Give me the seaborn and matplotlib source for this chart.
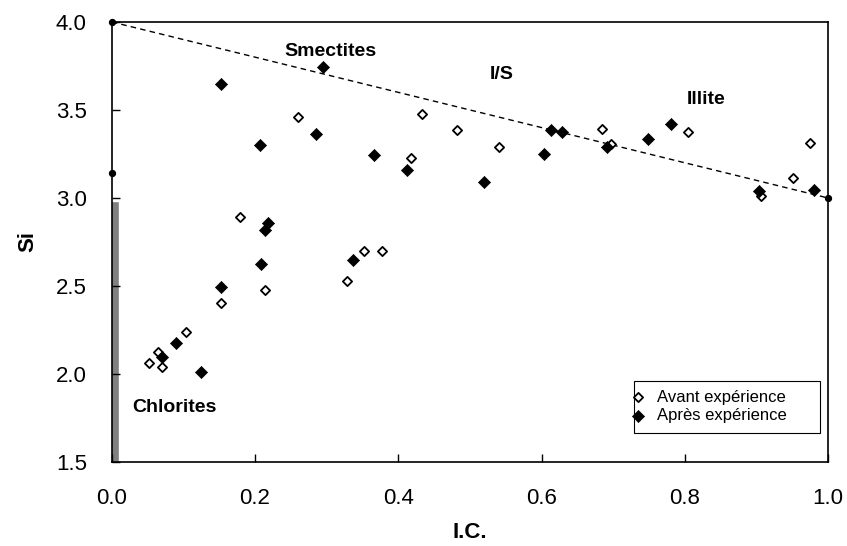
import numpy as np
import matplotlib
matplotlib.use("Agg")
import matplotlib.pyplot as plt
from matplotlib.patches import Rectangle
import pandas as pd
import seaborn as sns

sns.set_style("white")
plt.rcParams["font.family"] = ["Liberation Sans", "DejaVu Sans"]
plt.rcParams["text.color"] = "black"
plt.rcParams["axes.labelcolor"] = "black"
plt.rcParams["xtick.color"] = "black"
plt.rcParams["ytick.color"] = "black"

# avant experience (open diamonds)
avant_ic = [0.260, 0.179, 0.4325, 0.482, 0.418, 0.540, 0.684, 0.6965, 0.804, 0.975, 0.951,
            0.907, 0.152, 0.2137, 0.377, 0.3515, 0.328, 0.103, 0.065, 0.0526, 0.070]
avant_si = [3.459, 2.894, 3.475, 3.388, 3.226, 3.288, 3.390, 3.307, 3.375, 3.314, 3.114,
            3.011, 2.402, 2.475, 2.699, 2.697, 2.530, 2.240, 2.123, 2.064, 2.042]

# apres experience (filled diamonds)
apres_ic = [0.295, 0.152, 0.285, 0.207, 0.366, 0.218, 0.214, 0.412, 0.520, 0.613, 0.629, 0.603,
            0.691, 0.749, 0.781, 0.981, 0.903, 0.208, 0.152, 0.337, 0.089, 0.070, 0.124]
apres_si = [3.746, 3.648, 3.364, 3.303, 3.243, 2.860, 2.818, 3.157, 3.091, 3.386, 3.373, 3.248,
            3.292, 3.337, 3.422, 3.047, 3.038, 2.625, 2.493, 2.646, 2.174, 2.095, 2.013]

# reference line smectite -> illite, and end points
line_ic = [0.0, 1.0]
line_si = [4.0, 3.0]
pts_ic = [0.0, 0.0, 1.0]
pts_si = [4.0, 3.14, 3.0]

# chlorite bar
chl_ic = [0.0]
chl_top = [2.985]

labels = ["Smectites", "I/S", "Illite", "Chlorites"]
label_ic = [0.305, 0.545, 0.83, 0.087]
label_si = [3.83, 3.70, 3.557, 1.81]

df_av = pd.DataFrame({"IC": avant_ic, "Si": avant_si})
df_ap = pd.DataFrame({"IC": apres_ic, "Si": apres_si})

fig = plt.figure(figsize=(8.47, 5.46), dpi=100)
ax = fig.add_axes([0.132, 0.1538, 0.8456, 0.806])
ax.set_axisbelow(False)

ax.bar(chl_ic, np.array(chl_top) - 1.5, bottom=1.5, width=0.02, color="#808080", zorder=1)
ax.plot(line_ic, line_si, ls=(0, (4, 3)), color="black", lw=1, zorder=2)
ax.scatter(pts_ic, pts_si, s=18, color="black", zorder=5, clip_on=False)

sns.scatterplot(data=df_av, x="IC", y="Si", marker="D", s=22, facecolor="white",
                edgecolor="black", linewidth=1.3, ax=ax, zorder=3, label="Avant expérience")
sns.scatterplot(data=df_ap, x="IC", y="Si", marker="D", s=38, color="black",
                edgecolor="black", linewidth=0.5, ax=ax, zorder=4, label="Après expérience")

for t, xx, yy in zip(labels, label_ic, label_si):
    ax.text(xx, yy, t, ha="center", va="center", fontsize=14, fontweight="bold")

ax.set_xlim(0, 1.0)
ax.set_ylim(1.5, 4.0)
ax.set_xticks(np.arange(0, 1.01, 0.2))
ax.set_yticks(np.arange(1.5, 4.01, 0.5))
ax.set_xticklabels(["%.1f" % v for v in np.arange(0, 1.01, 0.2)])
ax.set_yticklabels(["%.1f" % v for v in np.arange(1.5, 4.01, 0.5)])
ax.tick_params(direction="in", length=5.5, width=1, labelsize=16, color="black",
               bottom=True, left=True)
ax.tick_params(axis="y", pad=18)
ax.tick_params(axis="x", pad=19)
for sp in ax.spines.values():
    sp.set_color("black")
    sp.set_linewidth(1.2)
ax.set_xlabel("I.C.", fontsize=16, fontweight="bold", va="center")
ax.set_ylabel("Si", fontsize=16, fontweight="bold", va="center")
ax.xaxis.set_label_coords(0.5, -0.16)
ax.yaxis.set_label_coords(-0.117, 0.5)

# legend box
ax.add_patch(Rectangle((0.7291, 0.0659), 0.2598, 0.1182, transform=ax.transAxes,
                       facecolor="white", edgecolor="black", lw=0.8, zorder=6))
leg = ax.legend(loc="upper left", bbox_to_anchor=(0.7254, 0.1648), fontsize=12, frameon=False,
                handletextpad=0.74, handlelength=0.8, borderpad=0, labelspacing=0.22,
                borderaxespad=0)
leg.set_zorder(7)

fig.savefig("out.png", dpi=100)
